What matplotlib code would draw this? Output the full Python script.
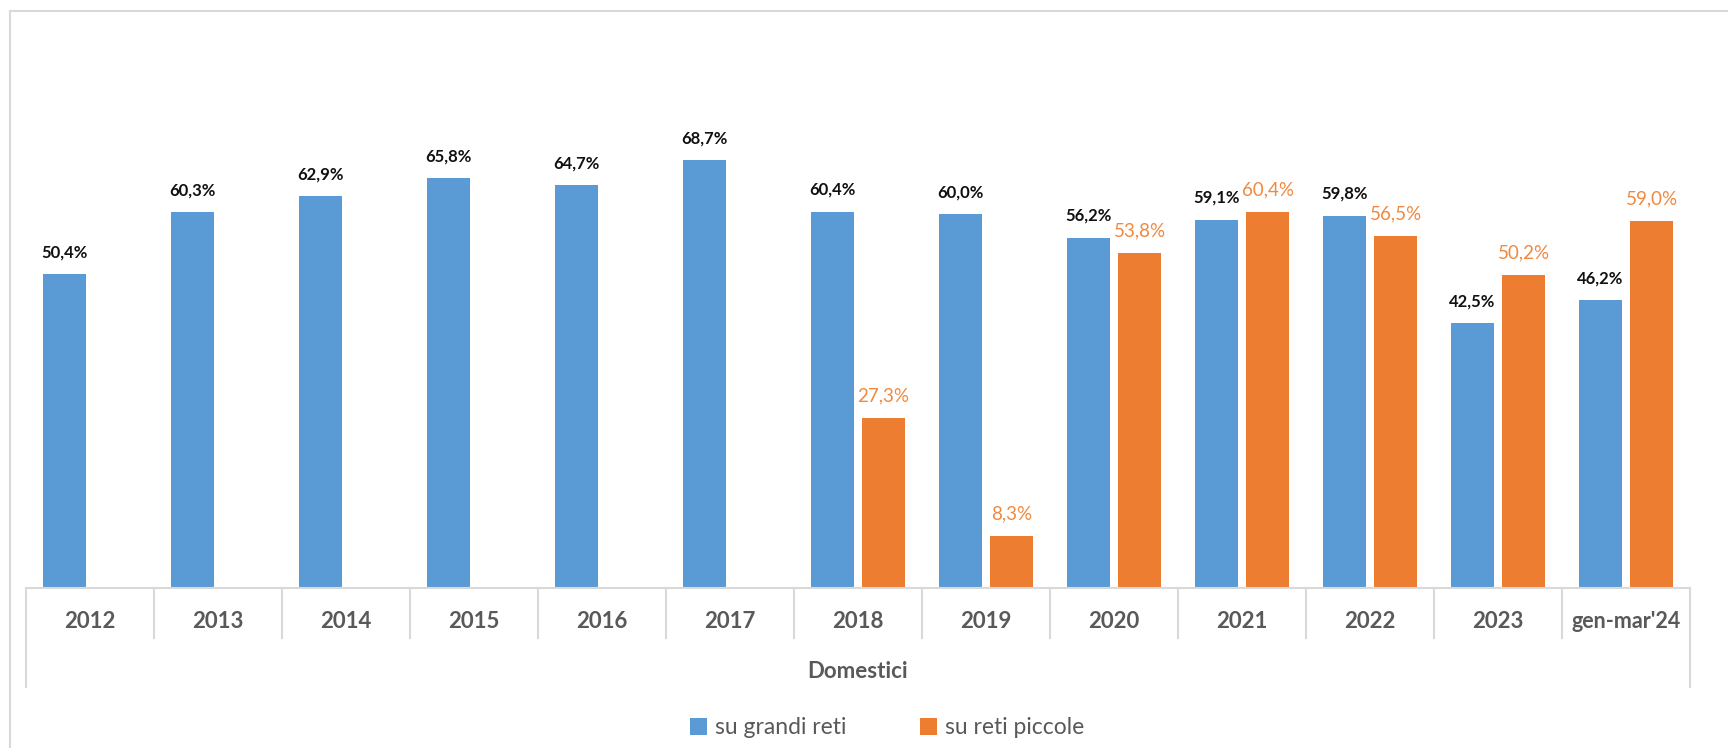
import numpy as np
import matplotlib
matplotlib.use("Agg")
import matplotlib.pyplot as plt
from matplotlib.lines import Line2D
from matplotlib.patches import Patch
from matplotlib.transforms import blended_transform_factory

plt.rcParams['font.family'] = ['Lato', 'DejaVu Sans']

categories = ["2012", "2013", "2014", "2015", "2016", "2017", "2018",
              "2019", "2020", "2021", "2022", "2023", "gen-mar'24"]
grandi_reti = [50.4, 60.3, 62.9, 65.8, 64.7, 68.7, 60.4,
               60.0, 56.2, 59.1, 59.8, 42.5, 46.2]
reti_piccole = [np.nan, np.nan, np.nan, np.nan, np.nan, np.nan, 27.3,
                8.3, 53.8, 60.4, 56.5, 50.2, 59.0]
group_label = "Domestici"
series_names = ["su grandi reti", "su reti piccole"]

BLUE = "#5B9BD5"
ORANGE = "#ED7D31"
ORANGE_TXT = "#F0893F"
GRID = "#D9D9D9"
TXT = "#595959"

W, H, DPI = 1728, 748, 100
fig = plt.figure(figsize=(W / DPI, H / DPI), dpi=DPI)

# plot area in pixels
x0, x1 = 26, 1690
ybase, ytop = 587.5, 89.9
ax = fig.add_axes([x0 / W, (H - ybase) / H, (x1 - x0) / W, (ybase - ytop) / H])

n = len(categories)
x = np.arange(n)
bw = 0.332
off = 0.2
b1 = ax.bar(x - off, grandi_reti, bw, color=BLUE, zorder=2)
b2 = ax.bar(x + off, reti_piccole, bw, color=ORANGE, zorder=2)

def fmt(v):
    return f"{v:.1f}%".replace(".", ",")

for xi, v in zip(x - off, grandi_reti):
    ax.annotate(fmt(v), (xi, v), xytext=(0, 15.8), textcoords="offset points",
                ha="center", va="center", fontsize=12, fontweight="bold",
                color="#111111", annotation_clip=False)
for xi, v in zip(x + off, reti_piccole):
    if np.isnan(v):
        continue
    ax.annotate(fmt(v), (xi, v), xytext=(0, 15.8), textcoords="offset points",
                ha="center", va="center", fontsize=13.5, color=ORANGE_TXT,
                annotation_clip=False)

ax.set_xlim(-0.5, n - 0.5)
ax.set_ylim(0, 80)
ax.axis("off")

# category axis with separators
tr = blended_transform_factory(ax.transData, ax.transAxes)
hpx = ybase - ytop
ax.add_line(Line2D([-0.5, n - 0.5], [0, 0], transform=tr, color=GRID,
                   lw=1.5, clip_on=False, zorder=3))
inner = -(638 - ybase) / hpx
outer = -(687 - ybase) / hpx
for b in np.arange(n + 1) - 0.5:
    low = outer if b in (-0.5, n - 0.5) else inner
    ax.add_line(Line2D([b, b], [0, low], transform=tr, color=GRID,
                       lw=1.5, clip_on=False))
ycat = -(621.5 - ybase) / hpx
for xi, lab in zip(x, categories):
    ax.text(xi, ycat, lab, transform=tr, ha="center", va="center",
            fontsize=16 if len(lab) < 6 else 15.5, fontweight="bold", color=TXT)
ax.text((n - 1) / 2, -(671 - ybase) / hpx, group_label, transform=tr,
        ha="center", va="center", fontsize=16, fontweight="bold", color=TXT)

# chart frame
fig.add_artist(Line2D([10 / W, 10 / W], [0, 1 - 11 / H], transform=fig.transFigure,
                      color=GRID, lw=1.5))
fig.add_artist(Line2D([10 / W, 1], [1 - 11 / H, 1 - 11 / H], transform=fig.transFigure,
                      color=GRID, lw=1.5))

handles = [Patch(facecolor=BLUE), Patch(facecolor=ORANGE)]
leg = fig.legend(handles, series_names, loc="center", ncol=2,
                 bbox_to_anchor=(887 / W, 1 - 728 / H), frameon=False,
                 fontsize=16.5, handlelength=0.75, handleheight=0.75,
                 handletextpad=0.35, columnspacing=3.2, labelcolor=TXT)

fig.savefig("out.png", dpi=DPI, facecolor="white")
